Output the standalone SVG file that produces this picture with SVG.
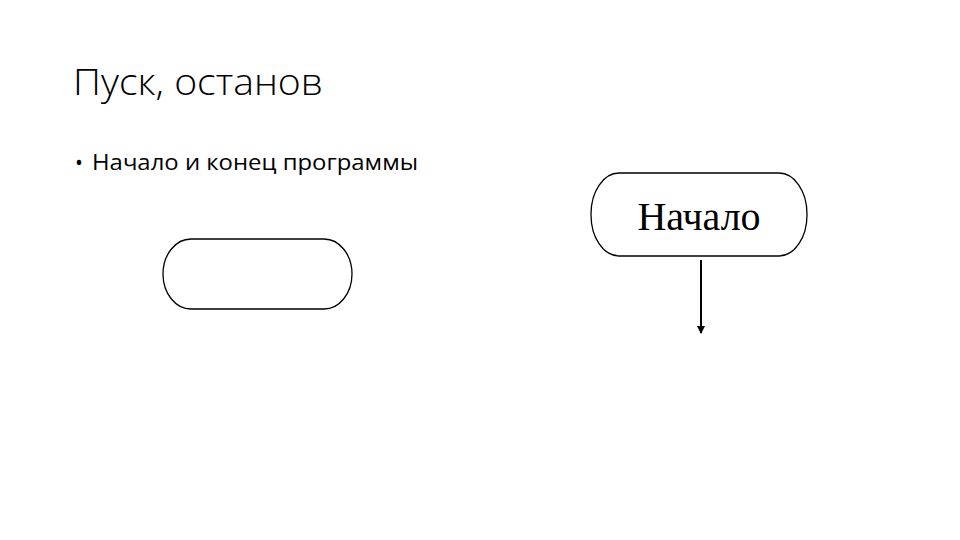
<svg xmlns="http://www.w3.org/2000/svg" width="960" height="540" viewBox="0 0 960 540">
<style>
.title{font-family:"Open Sans","Liberation Sans",sans-serif;font-weight:300;font-size:37px;fill:#000}
.body{font-family:"Open Sans","Liberation Sans",sans-serif;font-size:21px;fill:#000}
.term{fill:#fff;stroke:#000;stroke-width:1.3}
.lbl{font-family:"Liberation Serif",serif;font-size:40px;fill:#000}
.conn{stroke:#000;stroke-width:2;fill:none}
</style>
<defs>
<marker id="ah" markerWidth="8" markerHeight="8" refX="7" refY="4" orient="auto" markerUnits="userSpaceOnUse">
<path d="M0,0 L8,4 L0,8 z" fill="#000"/>
</marker>
</defs>
<rect width="960" height="540" fill="#fff"/>
<text class="title" x="73" y="95" textLength="250" lengthAdjust="spacingAndGlyphs">Пуск, останов</text>
<text class="body" x="75" y="170">•</text>
<text class="body" x="92" y="170" textLength="326" lengthAdjust="spacingAndGlyphs">Начало и конец программы</text>
<g id="terminator-empty">
<rect class="term" x="163" y="239" width="189" height="70" rx="28" ry="35"/>
</g>
<g id="terminator-start">
<rect class="term" x="591" y="173" width="216" height="83" rx="28" ry="41"/>
<text class="lbl" x="699" y="230" text-anchor="middle">Начало</text>
</g>
<g id="connectors">
<line class="conn" x1="701" y1="260" x2="701" y2="333" marker-end="url(#ah)"/>
</g>
</svg>
